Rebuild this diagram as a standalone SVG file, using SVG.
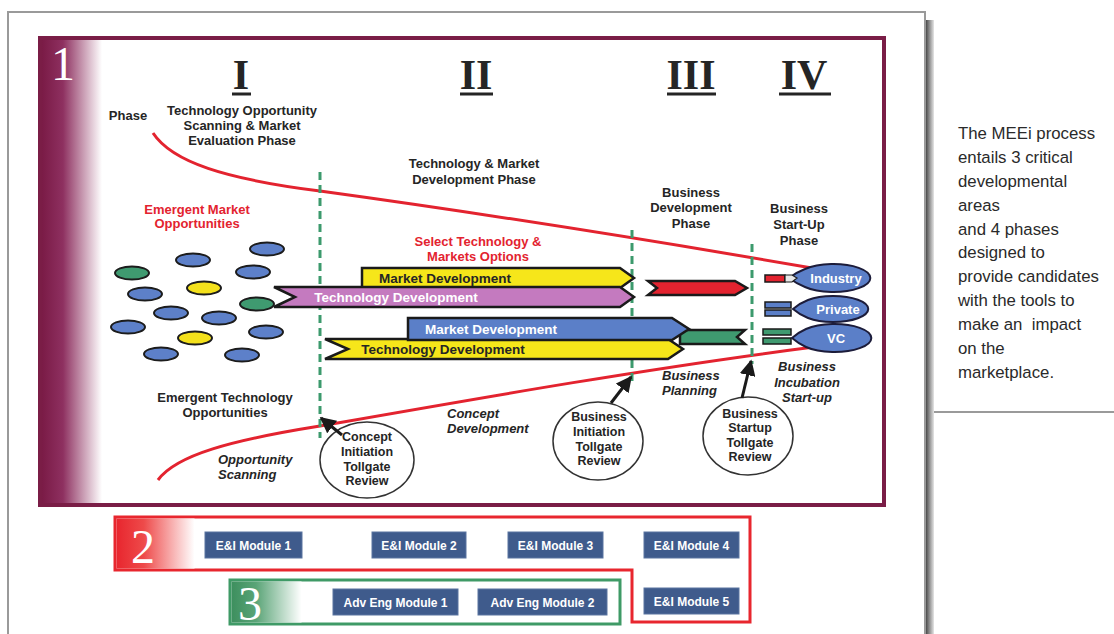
<svg xmlns="http://www.w3.org/2000/svg" width="1114" height="634" viewBox="0 0 1114 634">
<defs>
  <linearGradient id="gMaroon" x1="0" y1="0" x2="1" y2="0">
    <stop offset="0" stop-color="#7a1b46"/>
    <stop offset="0.35" stop-color="#8e3060"/>
    <stop offset="1" stop-color="#ffffff"/>
  </linearGradient>
  <linearGradient id="gRed" x1="0" y1="0" x2="1" y2="0">
    <stop offset="0" stop-color="#e8262e"/>
    <stop offset="0.35" stop-color="#ee4a4a"/>
    <stop offset="1" stop-color="#ffffff"/>
  </linearGradient>
  <linearGradient id="gGreen" x1="0" y1="0" x2="1" y2="0">
    <stop offset="0" stop-color="#3d8f5e"/>
    <stop offset="0.35" stop-color="#5aa477"/>
    <stop offset="1" stop-color="#ffffff"/>
  </linearGradient>
  <linearGradient id="gShadow" x1="0" y1="0" x2="1" y2="0">
    <stop offset="0" stop-color="#4a4a4a"/>
    <stop offset="1" stop-color="#e6e6e6"/>
  </linearGradient>
  <marker id="ah" viewBox="0 0 10 10" refX="9" refY="5" markerWidth="16" markerHeight="16" markerUnits="userSpaceOnUse" orient="auto">
    <path d="M0,0 L10,5 L0,10 z" fill="#1a1a1a"/>
  </marker>
</defs>
<style>
  .lbl{font-family:"Liberation Sans",Arial,sans-serif;font-weight:bold;font-size:13px;fill:#252525;text-anchor:middle}
  .it{font-style:italic}
  .redt{fill:#e3232f}
  .wt{fill:#ffffff}
  .roman{font-family:"Liberation Serif","Times New Roman",serif;font-weight:bold;font-size:42px;fill:#252525;text-anchor:middle}
  .num{font-family:"Liberation Serif","Times New Roman",serif;font-size:48px;fill:#ffffff;text-anchor:middle}
  .ul{stroke:#252525;stroke-width:3}
  .blue{fill:#5d80c9}
  .green{fill:#3f9a70}
  .yellow{fill:#f4e11c}
  .blob ellipse{stroke:#1c1c1c;stroke-width:2}
  .bar{stroke:#1a1a1a;stroke-width:2.5;stroke-linejoin:miter}
  .dash{stroke:#3c9a6d;stroke-width:3;stroke-dasharray:8 5;fill:none}
  .curve{stroke:#e3232f;stroke-width:3;fill:none}
  .toll ellipse{fill:#ffffff;stroke:#333333;stroke-width:1.5}
  .tl{font-family:"Liberation Sans",Arial,sans-serif;font-weight:bold;font-size:12.5px;fill:#252525;text-anchor:middle}
  .arrow{stroke:#1a1a1a;stroke-width:3;fill:none}
  .mod rect{fill:#3f5b8c;stroke:#5a74a0;stroke-width:1}
  .mod text{font-family:"Liberation Sans",Arial,sans-serif;font-weight:bold;font-size:12px;fill:#ffffff;text-anchor:middle}
  .side{font-family:"Liberation Sans",Arial,sans-serif;font-size:16.8px;fill:#2a2a2a;white-space:pre}
  .eln{stroke:#1c1c3a;stroke-width:2;fill:#5b7fc8}
</style>
<rect x="0" y="0" width="1114" height="634" fill="#ffffff"/>

<g id="outer-frame">
  <rect x="8" y="12" width="917" height="640" fill="#ffffff" stroke="#9a9a9a" stroke-width="2"/>
  <rect x="926" y="20" width="8" height="614" fill="url(#gShadow)"/>
  <line x1="934" y1="412" x2="1114" y2="412" stroke="#9a9a9a" stroke-width="2"/>
</g>

<g id="side-text">
  <text class="side" x="958" y="139">The MEEi process</text>
  <text class="side" x="958" y="163">entails 3 critical</text>
  <text class="side" x="958" y="187">developmental</text>
  <text class="side" x="958" y="211">areas</text>
  <text class="side" x="958" y="235">and 4 phases</text>
  <text class="side" x="958" y="258">designed to</text>
  <text class="side" x="958" y="282">provide candidates</text>
  <text class="side" x="958" y="306">with the tools to</text>
  <text class="side" x="958" y="330" xml:space="preserve">make an  impact</text>
  <text class="side" x="958" y="354">on the</text>
  <text class="side" x="958" y="378">marketplace.</text>
</g>

<g id="frame1">
  <rect x="40" y="38" width="844" height="467" fill="#ffffff" stroke="#7a1d46" stroke-width="4"/>
  <rect x="42" y="40" width="60" height="463" fill="url(#gMaroon)"/>
  <text class="num" x="63" y="80">1</text>
</g>

<g id="phase-headers">
  <text class="roman" x="241" y="89">I</text>
  <line class="ul" x1="232" y1="94" x2="251" y2="94"/>
  <text class="roman" x="476" y="89">II</text>
  <line class="ul" x1="460" y1="94" x2="493" y2="94"/>
  <text class="roman" x="691" y="89">III</text>
  <line class="ul" x1="667" y1="94" x2="716" y2="94"/>
  <text class="roman" x="804" y="89">IV</text>
  <line class="ul" x1="779" y1="94" x2="831" y2="94"/>
  <text class="lbl" x="128" y="120">Phase</text>
  <text class="lbl" x="242" y="115">Technology Opportunity</text>
  <text class="lbl" x="242" y="130">Scanning &amp; Market</text>
  <text class="lbl" x="242" y="145">Evaluation Phase</text>
  <text class="lbl" x="474" y="168">Technology &amp; Market</text>
  <text class="lbl" x="474" y="184">Development Phase</text>
  <text class="lbl" x="691" y="197">Business</text>
  <text class="lbl" x="691" y="212">Development</text>
  <text class="lbl" x="691" y="228">Phase</text>
  <text class="lbl" x="799" y="213">Business</text>
  <text class="lbl" x="799" y="229">Start-Up</text>
  <text class="lbl" x="799" y="245">Phase</text>
</g>

<g id="funnel">
  <path class="curve" d="M153,133 C172,162 225,179 320,191 C480,213 650,240 812,268"/>
  <path class="curve" d="M158,480 C176,455 232,440 320,426 C480,398 650,368 814,347"/>
  <line class="dash" x1="320" y1="172" x2="320" y2="438"/>
  <line class="dash" x1="632" y1="230" x2="632" y2="382"/>
  <line class="dash" x1="752" y1="244" x2="752" y2="364"/>
</g>

<g id="area-labels">
  <text class="lbl redt" x="197" y="214">Emergent Market</text>
  <text class="lbl redt" x="197" y="228">Opportunities</text>
  <text class="lbl redt" x="478" y="246">Select Technology &amp;</text>
  <text class="lbl redt" x="478" y="261">Markets Options</text>
  <text class="lbl" x="225" y="402">Emergent Technology</text>
  <text class="lbl" x="225" y="417">Opportunities</text>
  <text class="lbl it" x="218" y="464" style="text-anchor:start">Opportunity</text>
  <text class="lbl it" x="218" y="479" style="text-anchor:start">Scanning</text>
  <text class="lbl it" x="447" y="418" style="text-anchor:start">Concept</text>
  <text class="lbl it" x="447" y="433" style="text-anchor:start">Development</text>
  <text class="lbl it" x="662" y="380" style="text-anchor:start">Business</text>
  <text class="lbl it" x="662" y="395" style="text-anchor:start">Planning</text>
  <text class="lbl it" x="807" y="371">Business</text>
  <text class="lbl it" x="807" y="387">Incubation</text>
  <text class="lbl it" x="807" y="402">Start-up</text>
</g>

<g id="opportunities" class="blob">
  <ellipse class="blue" cx="267" cy="249" rx="17" ry="6.5"/>
  <ellipse class="blue" cx="193" cy="260" rx="17" ry="6.5"/>
  <ellipse class="green" cx="132" cy="273" rx="17" ry="6.5"/>
  <ellipse class="blue" cx="253" cy="272" rx="17" ry="6.5"/>
  <ellipse class="yellow" cx="204" cy="288" rx="17" ry="6.5"/>
  <ellipse class="blue" cx="145" cy="294" rx="17" ry="6.5"/>
  <ellipse class="green" cx="257" cy="304" rx="17" ry="6.5"/>
  <ellipse class="blue" cx="171" cy="313" rx="17" ry="6.5"/>
  <ellipse class="blue" cx="219" cy="318" rx="17" ry="6.5"/>
  <ellipse class="blue" cx="128" cy="327" rx="17" ry="6.5"/>
  <ellipse class="blue" cx="266" cy="332" rx="17" ry="6.5"/>
  <ellipse class="yellow" cx="195" cy="338" rx="17" ry="6.5"/>
  <ellipse class="blue" cx="161" cy="354" rx="17" ry="6.5"/>
  <ellipse class="blue" cx="242" cy="355" rx="17" ry="6.5"/>
</g>

<g id="tracks">
  <polygon class="bar" fill="#f6e61a" points="362,268 620,268 634,278 620,288 362,288"/>
  <polygon class="bar" fill="#c47abf" points="274,287 620,287 634,297 620,307 274,307 295,297"/>
  <text class="lbl" x="445" y="283" style="font-size:13.5px">Market Development</text>
  <text class="lbl wt" x="396" y="302" style="font-size:13.5px">Technology Development</text>
  <polygon class="bar" fill="#3f9a70" points="680,330 745,330 737,337 745,344 680,344"/>
  <polygon class="bar" fill="#f6e61a" points="325,339 668,339 683,349 668,359 325,359 348,349"/>
  <polygon class="bar" fill="#5b7fc8" points="408,318 672,318 689,329 672,340 408,340"/>
  <text class="lbl wt" x="491" y="334" style="font-size:13.5px">Market Development</text>
  <text class="lbl" x="443" y="354" style="font-size:13.5px">Technology Development</text>
  <polygon class="bar" fill="#e3232f" points="648,281 735,281 747,288 735,295 648,295 657,288"/>
</g>

<g id="outcomes">
  <g id="industry">
    <rect class="bar" x="765" y="275" width="20" height="7" fill="#e3232f" style="stroke-width:1.5"/>
    <path class="eln" d="M789,278 Q797,272 805,269 A37 14 0 1 1 805,287 Q797,284 789,278 Z"/>
    <path d="M785,275 L792,275 L797,278 L792,282 L785,282 Z" fill="#e8e8e8" stroke="#1c1c1c" stroke-width="1.2"/>
    <text class="lbl wt" x="836" y="283">Industry</text>
  </g>
  <g id="private">
    <rect class="bar" x="765" y="302" width="26" height="6" fill="#5b7fc8" style="stroke-width:1.5"/>
    <rect class="bar" x="765" y="310" width="26" height="6" fill="#5b7fc8" style="stroke-width:1.5"/>
    <path class="eln" d="M793,309 Q800,303 808,300 A35 13 0 1 1 808,318 Q800,315 793,309 Z"/>
    <text class="lbl wt" x="838" y="314">Private</text>
  </g>
  <g id="vc">
    <rect class="bar" x="763" y="329" width="28" height="6" fill="#3f9a70" style="stroke-width:1.5"/>
    <rect class="bar" x="763" y="338" width="28" height="6" fill="#3f9a70" style="stroke-width:1.5"/>
    <path class="eln" d="M792,338 Q799,332 806,329 A37 14 0 1 1 806,347 Q799,344 792,338 Z"/>
    <text class="lbl wt" x="836" y="343">VC</text>
  </g>
</g>

<g id="tollgates" class="toll">
  <g id="tg-concept">
    <ellipse cx="367" cy="460" rx="47" ry="38"/>
    <text class="tl" x="367" y="441">Concept</text>
    <text class="tl" x="367" y="456">Initiation</text>
    <text class="tl" x="367" y="471">Tollgate</text>
    <text class="tl" x="367" y="485">Review</text>
  </g>
  <g id="tg-business-init">
    <ellipse cx="598" cy="441" rx="45" ry="39"/>
    <text class="tl" x="599" y="421">Business</text>
    <text class="tl" x="599" y="436">Initiation</text>
    <text class="tl" x="599" y="451">Tollgate</text>
    <text class="tl" x="599" y="465">Review</text>
  </g>
  <g id="tg-business-startup">
    <ellipse cx="748" cy="436" rx="45" ry="39"/>
    <text class="tl" x="750" y="418">Business</text>
    <text class="tl" x="750" y="432">Startup</text>
    <text class="tl" x="750" y="447">Tollgate</text>
    <text class="tl" x="750" y="461">Review</text>
  </g>
</g>

<g id="connectors">
  <line class="arrow" x1="342" y1="435" x2="321" y2="418" marker-end="url(#ah)"/>
  <line class="arrow" x1="611" y1="403" x2="631" y2="377" marker-end="url(#ah)"/>
  <line class="arrow" x1="742" y1="398" x2="751" y2="361" marker-end="url(#ah)"/>
</g>

<g id="frame2">
  <path d="M115,517 L750,517 L750,622 L632,622 L632,570 L115,570 Z" fill="none" stroke="#e8262e" stroke-width="3"/>
  <rect x="116.5" y="518.5" width="78" height="50" fill="url(#gRed)"/>
  <text class="num" x="143" y="563">2</text>
</g>

<g id="frame3">
  <rect x="230" y="580" width="390" height="44" fill="#ffffff" stroke="#3f9a66" stroke-width="3"/>
  <rect x="231.5" y="581.5" width="70" height="41" fill="url(#gGreen)"/>
  <text class="num" x="250" y="620">3</text>
</g>

<g id="modules" class="mod">
  <g id="ei1"><rect x="205" y="532" width="97" height="26"/><text x="253.5" y="549.5">E&amp;I Module 1</text></g>
  <g id="ei2"><rect x="372" y="532" width="94" height="26"/><text x="419" y="549.5">E&amp;I Module 2</text></g>
  <g id="ei3"><rect x="508" y="532" width="95" height="26"/><text x="555.5" y="549.5">E&amp;I Module 3</text></g>
  <g id="ei4"><rect x="644" y="532" width="95" height="26"/><text x="691.5" y="549.5">E&amp;I Module 4</text></g>
  <g id="ei5"><rect x="644" y="588" width="95" height="26"/><text x="691.5" y="605.5">E&amp;I Module 5</text></g>
  <g id="ae1"><rect x="333" y="589" width="125" height="26"/><text x="395.5" y="606.5">Adv Eng Module 1</text></g>
  <g id="ae2"><rect x="478" y="589" width="129" height="26"/><text x="542.5" y="606.5">Adv Eng Module 2</text></g>
</g>
</svg>
